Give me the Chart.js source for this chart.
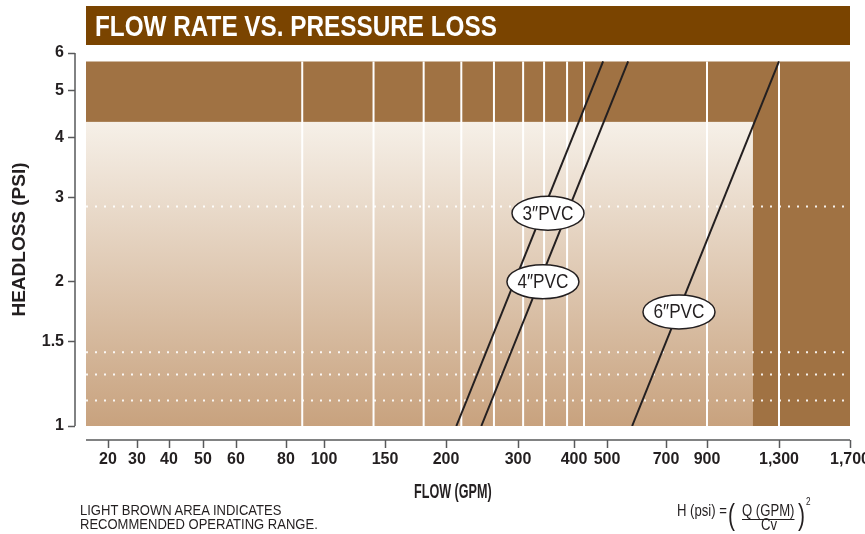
<!DOCTYPE html>
<html>
<head>
<meta charset="utf-8">
<script src="https://cdn.jsdelivr.net/npm/chart.js@4.4.1/dist/chart.umd.min.js"></script>
<style>
  html, body { margin: 0; padding: 0; background: #fff; }
  #wrap { position: relative; width: 865px; height: 534px; overflow: hidden;
          font-family: 'Liberation Sans', Arial, sans-serif; color: #231f20; }
  #myChart { position: absolute; left: 0; top: 0; }
  .narrow { position: absolute; white-space: nowrap; transform-origin: 0 0; }
  .banner { position: absolute; left: 86px; top: 6px; width: 764px; height: 39px; background: #7a4400; }
  .banner span { left: 9px; top: 0; color: #fff; font-weight: bold; font-size: 30px; line-height: 40px;
                 transform: scaleX(0.81); }
  .xtitle { left: 414px; top: 480px; font-weight: bold; font-size: 20px; line-height: 22px; transform: scaleX(0.63); }
  .note { left: 80px; top: 503px; font-size: 15.5px; line-height: 13.5px; transform: scaleX(0.84); }
  .f { font-size: 16px; line-height: 18px; transform: scaleX(0.82); }
  .num { border-bottom: 1px solid #231f20; line-height: 16px; }
  .paren { font-size: 30px; line-height: 36px; transform: scaleX(0.7); }
  .sq { font-size: 10px; line-height: 10px; }
</style>
</head>
<body>
<div id="wrap">
  <canvas id="myChart" width="865" height="534"></canvas>
  <div class="banner"><span class="narrow">FLOW RATE VS. PRESSURE LOSS</span></div>
  <div class="narrow xtitle">FLOW (GPM)</div>
  <div class="narrow note">LIGHT BROWN AREA INDICATES<br>RECOMMENDED OPERATING RANGE.</div>
  <div class="narrow f" style="left:677px; top:502px;">H (psi) =</div>
  <div class="narrow f paren" style="left:728px; top:497px;">(</div>
  <div class="narrow f num" style="left:742px; top:503px;">Q (GPM)</div>
  <div class="narrow f" style="left:761px; top:518px; line-height:14px;">Cv</div>
  <div class="narrow f paren" style="left:798px; top:497px;">)</div>
  <div class="narrow f sq" style="left:806px; top:497px;">2</div>
</div>
<script>
// tick labels
const FLOW_TICKS = [20, 30, 40, 50, 60, 80, 100, 150, 200, 300, 400, 500, 700, 900, 1300, 1700];
const HEAD_TICKS = [1, 1.5, 2, 3, 4, 5, 6];

// pipe curves, GPM / psi at both ends
const PVC_NAMES = ['3″PVC', '4″PVC', '6″PVC'];
const PVC_FLOW = [[212, 487], [244, 564], [577, 1300]];
const PVC_HEAD = [[1, 5.76], [1, 5.76], [1, 5.76]];
const PVC_TAG_FLOW = [350, 341, 758];
const PVC_TAG_HEAD = [2.78, 2.0, 1.73];

// white guide lines
const REF_FLOWS = [88, 139, 180, 218, 262, 308, 343, 386, 428, 900, 1300];
const REF_HEADS = [2.87, 1.425, 1.28, 1.13];

// shaded band and recommended range
const BAND_TOP = 5.76;
const RANGE_MAX_FLOW = 1138;
const RANGE_MAX_HEAD = 4.31;

const FONT = "'Liberation Sans', Arial, sans-serif";
const INK = '#231f20';
const AXIS = '#58595b';
const DARK = '#a07243';

// the printed flow axis is hand spaced: value -> offset along the 764px axis
const FLOW_AXIS = [[16, 0], [20, 22], [30, 51], [40, 83], [50, 117], [60, 150], [80, 200], [100, 238],
  [150, 299], [200, 360], [300, 432], [400, 488], [500, 521], [700, 580], [900, 621], [1300, 693], [1700, 764]];
const AXIS_LEN = 764;

function flowToDecimal(v) {
  const k = FLOW_AXIS;
  let i = 0;
  while (i < k.length - 2 && v > k[i + 1][0]) i++;
  const [a, pa] = k[i], [b, pb] = k[i + 1];
  const t = Math.log(v / a) / Math.log(b / a);
  return (pa + t * (pb - pa)) / AXIS_LEN;
}
function decimalToFlow(d) {
  const k = FLOW_AXIS, p = d * AXIS_LEN;
  let i = 0;
  while (i < k.length - 2 && p > k[i + 1][1]) i++;
  const [a, pa] = k[i], [b, pb] = k[i + 1];
  return a * Math.pow(b / a, (p - pa) / (pb - pa));
}

class FlowScale extends Chart.Scale {
  determineDataLimits() {
    this.min = FLOW_AXIS[0][0];
    this.max = FLOW_AXIS[FLOW_AXIS.length - 1][0];
  }
  buildTicks() {
    return FLOW_TICKS.map(v => ({value: v}));
  }
  getLabelForValue(v) { return String(v); }
  getPixelForValue(v) { return this.getPixelForDecimal(flowToDecimal(v)); }
  getValueForPixel(px) { return decimalToFlow(this.getDecimalForPixel(px)); }
}
FlowScale.id = 'flow';
FlowScale.defaults = {};
Chart.register(FlowScale);

const datasets = [];
PVC_NAMES.forEach((name, i) => {
  datasets.push({
    label: name,
    data: [{x: PVC_FLOW[i][0], y: PVC_HEAD[i][0]}, {x: PVC_FLOW[i][1], y: PVC_HEAD[i][1]}],
    borderColor: INK, borderWidth: 2, pointRadius: 0, order: 0
  });
});
REF_HEADS.forEach(h => {
  datasets.push({
    data: [{x: FLOW_AXIS[0][0], y: h}, {x: FLOW_AXIS[FLOW_AXIS.length - 1][0], y: h}],
    borderColor: 'rgba(255,255,255,0.9)', borderWidth: 2, borderDash: [2, 7], pointRadius: 0, order: 1
  });
});
REF_FLOWS.forEach(f => {
  datasets.push({
    data: [{x: f, y: 1}, {x: f, y: BAND_TOP}],
    borderColor: '#fff', borderWidth: 2, pointRadius: 0, order: 2
  });
});

const backdrop = {
  id: 'backdrop',
  beforeDatasetsDraw(chart) {
    const {ctx, chartArea: a, scales: {x, y}} = chart;
    const top = y.getPixelForValue(BAND_TOP);
    ctx.save();
    ctx.fillStyle = DARK;
    ctx.fillRect(a.left, top, a.right - a.left, a.bottom - top);
    const rx = x.getPixelForValue(RANGE_MAX_FLOW), ry = y.getPixelForValue(RANGE_MAX_HEAD);
    const g = ctx.createLinearGradient(0, ry, 0, a.bottom);
    g.addColorStop(0, '#f6f0e8');
    g.addColorStop(1, '#c8a27e');
    ctx.fillStyle = g;
    ctx.fillRect(a.left, ry, rx - a.left, a.bottom - ry);
    ctx.restore();
  },
  afterDatasetsDraw(chart) {
    const {ctx, scales: {x, y}} = chart;
    PVC_NAMES.forEach((t, i) => {
      const cx = x.getPixelForValue(PVC_TAG_FLOW[i]), cy = y.getPixelForValue(PVC_TAG_HEAD[i]);
      ctx.save();
      ctx.beginPath();
      ctx.ellipse(cx, cy, 36, 17, 0, 0, Math.PI * 2);
      ctx.fillStyle = '#fff';
      ctx.fill();
      ctx.lineWidth = 1.5;
      ctx.strokeStyle = INK;
      ctx.stroke();
      // condensed lettering
      ctx.translate(cx, cy + 1);
      ctx.scale(0.86, 1);
      ctx.fillStyle = INK;
      ctx.font = '20px ' + FONT;
      ctx.textAlign = 'center';
      ctx.textBaseline = 'middle';
      ctx.fillText(t, 0, 0);
      ctx.restore();
    });
  },
  afterDraw(chart) {
    // axis lines sit a little away from the plot
    const {ctx, chartArea: a, scales: {y}} = chart;
    ctx.save();
    ctx.strokeStyle = AXIS;
    ctx.lineWidth = 1.5;
    ctx.beginPath();
    ctx.moveTo(a.left - 11, y.getPixelForValue(HEAD_TICKS[HEAD_TICKS.length - 1]));
    ctx.lineTo(a.left - 11, y.getPixelForValue(HEAD_TICKS[0]));
    ctx.moveTo(a.left, a.bottom + 14);
    ctx.lineTo(a.right, a.bottom + 14);
    ctx.stroke();
    ctx.restore();
  }
};

const tickFont = {family: FONT, size: 16, weight: 'bold'};

const config = {
  type: 'line',
  data: {datasets: datasets},
  options: {
    responsive: false,
    animation: false,
    layout: {padding: {top: 53, right: 15, bottom: 30, left: 0}},
    plugins: {legend: {display: false}, tooltip: {enabled: false}, title: {display: false}},
    scales: {
      x: {
        type: 'flow',
        position: 'bottom',
        border: {display: false},
        grid: {drawOnChartArea: false, tickLength: 22, tickWidth: 1.5, tickColor: AXIS,
               tickBorderDash: [8, 14], tickBorderDashOffset: 8},
        ticks: {padding: 2, color: INK, font: tickFont, autoSkip: false, maxRotation: 0,
                callback: v => v.toLocaleString('en-US')},
        afterFit: s => { s.height = 78; s.paddingLeft = 0; s.paddingRight = 0; }
      },
      y: {
        type: 'logarithmic',
        position: 'left',
        min: 1,
        max: 6,
        border: {display: false},
        grid: {drawOnChartArea: false, tickLength: 18, tickWidth: 1.5, tickColor: AXIS, tickBorderDash: [7, 11]},
        afterBuildTicks: s => { s.ticks = HEAD_TICKS.map(v => ({value: v})); },
        ticks: {padding: 4, color: INK, font: tickFont, autoSkip: false, callback: v => String(v)},
        title: {display: true, text: 'HEADLOSS (PSI)', color: INK,
                font: {family: FONT, size: 19, weight: 'bold'}, padding: {top: 8, bottom: 0}},
        afterFit: s => { s.width = 86; }
      }
    }
  },
  plugins: [backdrop]
};

const ctx = document.getElementById('myChart').getContext('2d');
const myChart = new Chart(ctx, config);
</script>
</body>
</html>
